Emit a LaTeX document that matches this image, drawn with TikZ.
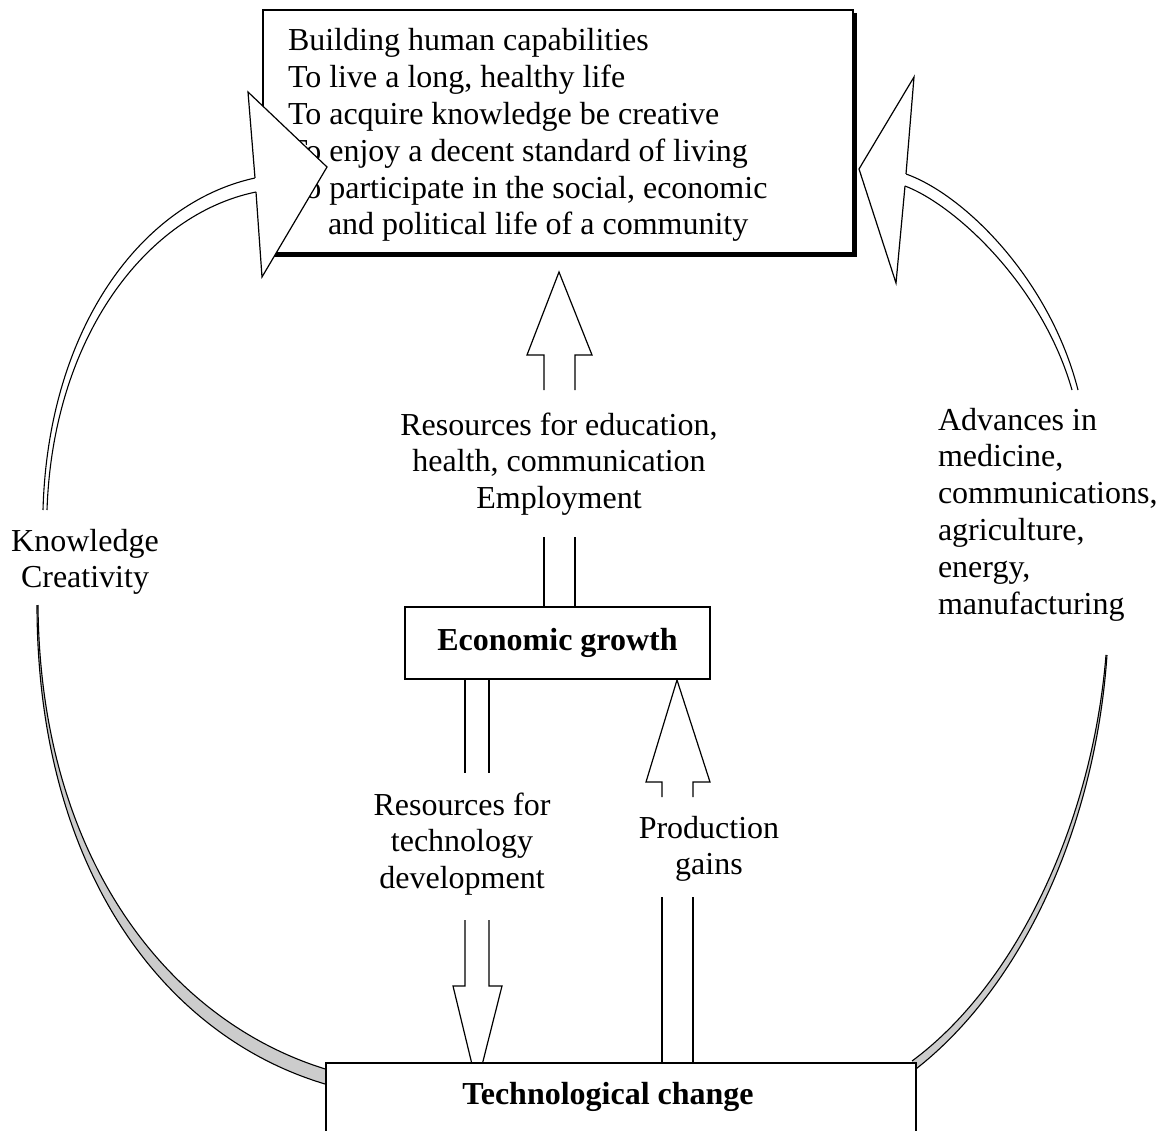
\documentclass[tikz,border=0pt]{standalone}
\usepackage{fontspec}
\setmainfont{Liberation Serif}
\newcommand{\mylines}[2]{\begin{tabular}[t]{@{}#1@{}}#2\end{tabular}}
\begin{document}
\begin{tikzpicture}[x=1pt,y=-1pt,line width=1.2pt,
  every node/.style={inner sep=0pt,outer sep=0pt},
  box/.style={draw,fill=white,anchor=north west,line width=1.3pt},
  lbl/.style={anchor=base},
  bandfill/.style={fill=white,draw=none},
  backfill/.style={fill=black!20,draw=none},
  bandline/.style={line width=1.1pt},
  headfill/.style={fill=white,draw=none},
  font=\fontsize{32}{36.8}\selectfont]
\useasboundingbox (0,0) rectangle (1175,1131);

% ---------- curved band, left (Knowledge, Creativity) ----------
\coordinate (LUo1) at (255,178); \coordinate (LUi1) at (256,192);
\coordinate (LUo2) at (43,510);  \coordinate (LUi2) at (47,510);
\path[bandfill] (LUo1) .. controls (140,203) and (48,330) .. (LUo2)
  -- (LUi2) .. controls (53,335) and (148,214) .. (LUi1) -- cycle;
\draw[bandline] (LUo1) .. controls (140,203) and (48,330) .. (LUo2);
\draw[bandline] (LUi1) .. controls (148,214) and (53,335) .. (LUi2);

\coordinate (LLo1) at (37,605);  \coordinate (LLi1) at (38,605);
\coordinate (LLo2) at (332,1086); \coordinate (LLi2) at (332,1071);
\path[backfill] (LLo1) .. controls (37,870) and (165,1040) .. (LLo2)
  -- (LLi2) .. controls (172,1025) and (40,862) .. (LLi1) -- cycle;
\draw[bandline] (LLo1) .. controls (37,870) and (165,1040) .. (LLo2);
\draw[bandline] (LLi1) .. controls (40,862) and (172,1025) .. (LLi2);

% ---------- curved band, right (Advances ...) ----------
\coordinate (RUo1) at (906,174); \coordinate (RUi1) at (905,186);
\coordinate (RUo2) at (1078,390); \coordinate (RUi2) at (1072,390);
\path[bandfill] (RUo1) .. controls (965,195) and (1050,280) .. (RUo2)
  -- (RUi2) .. controls (1042,285) and (955,205) .. (RUi1) -- cycle;
\draw[bandline] (RUo1) .. controls (965,195) and (1050,280) .. (RUo2);
\draw[bandline] (RUi1) .. controls (955,205) and (1042,285) .. (RUi2);

\coordinate (RLo1) at (1107,655); \coordinate (RLi1) at (1106,655);
\coordinate (RLo2) at (912,1072); \coordinate (RLi2) at (912,1061);
\path[backfill] (RLo1) .. controls (1095,830) and (1020,990) .. (RLo2)
  -- (RLi2) .. controls (1015,985) and (1092,825) .. (RLi1) -- cycle;
\draw[bandline] (RLo1) .. controls (1095,830) and (1020,990) .. (RLo2);
\draw[bandline] (RLi1) .. controls (1092,825) and (1015,985) .. (RLi2);

% ---------- top box ----------
\fill (266,13) rectangle (857,257);
\node[box,minimum width=590pt,minimum height=243pt] (top) at (263,10) {};
\node[anchor=base west] (toptext) at (288,51) {\mylines{l}{Building human capabilities\\
To live a long, healthy life\\
To acquire knowledge be creative\\
To enjoy a decent standard of living\\
To participate in the social, economic\\
\hspace*{40pt}and political life of a community}};

% ---------- arrow heads of curved arrows ----------
\path[headfill] (LUo1) -- (248,92) -- (327,167) -- (262,277) -- (LUi1) -- cycle;
\draw (LUo1) -- (248,92) -- (327,167) -- (262,277) -- (LUi1);
\path[headfill] (RUo1) -- (914,77) -- (859,169) -- (896,283) -- (RUi1) -- cycle;
\draw (RUo1) -- (914,77) -- (859,169) -- (896,283) -- (RUi1);

% ---------- straight block arrows ----------
% economic growth -> capabilities
\path[headfill] (544,355) -- (527,355) -- (559,272) -- (592,355) -- (575,355) -- cycle;
\draw (544,390) -- (544,355) -- (527,355) -- (559,272) -- (592,355) -- (575,355) -- (575,390);
\draw (544,537) -- (544,607) (575,537) -- (575,607);
% economic growth -> technological change
\draw (465,679) -- (465,773) (489,679) -- (489,773);
\path[headfill] (465,986) -- (453,986) -- (477,1085) -- (502,986) -- (489,986) -- cycle;
\draw (465,920) -- (465,986) -- (453,986) -- (477,1085) -- (502,986) -- (489,986) -- (489,920);
% technological change -> economic growth
\path[headfill] (662,782) -- (646,782) -- (677,680) -- (710,782) -- (693,782) -- cycle;
\draw (662,797) -- (662,782) -- (646,782) -- (677,680) -- (710,782) -- (693,782) -- (693,797);
\draw (662,897) -- (662,1063) (693,897) -- (693,1063);

% ---------- boxes ----------
\node[box,minimum width=305pt,minimum height=72pt,font=\fontsize{32}{36.8}\selectfont\bfseries] (econ) at (405,607) {Economic growth};
\node[box,minimum width=590pt,minimum height=100pt] (tech) at (326,1063) {};
\node[lbl,font=\fontsize{32}{36.8}\selectfont\bfseries] (techtext) at (608,1104) {Technological change};

% ---------- labels ----------
\node[lbl] (edulbl) at (559,435) {\mylines{c}{Resources for education,\\health, communication\\Employment}};
\node[lbl] (techres) at (462,815) {\mylines{c}{Resources for\\technology\\development}};
\node[lbl] (prodlbl) at (709,838) {\mylines{c}{Production\\gains}};
\node[lbl] (knowlbl) at (85,551) {\mylines{c}{Knowledge\\Creativity}};
\node[anchor=base west] (advlbl) at (938,430) {\mylines{l}{Advances in\\medicine,\\communications,\\agriculture,\\energy,\\manufacturing}};
\end{tikzpicture}
\end{document}
